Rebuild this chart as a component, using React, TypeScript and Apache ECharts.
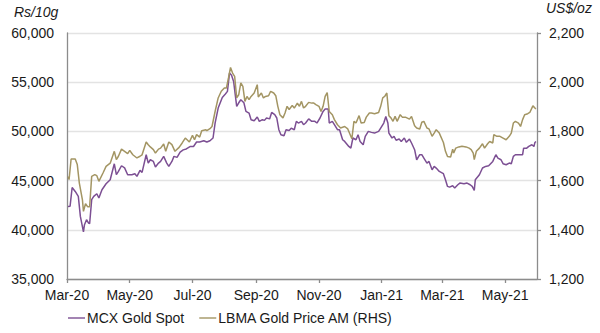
import React, { useEffect, useRef } from "react";
import * as echarts from "echarts";

const mcxDates = [
  "2020-03-02","2020-03-04","2020-03-06","2020-03-09","2020-03-12","2020-03-14","2020-03-17","2020-03-18","2020-03-20","2020-03-22",
  "2020-03-23","2020-03-25","2020-03-27","2020-03-30","2020-04-01","2020-04-04","2020-04-08","2020-04-12","2020-04-16","2020-04-18",
  "2020-04-20","2020-04-23","2020-04-26","2020-04-29","2020-05-03","2020-05-06","2020-05-08","2020-05-11","2020-05-13","2020-05-17",
  "2020-05-19","2020-05-21","2020-05-24","2020-05-26","2020-05-29","2020-05-31","2020-06-03","2020-06-06","2020-06-08","2020-06-11",
  "2020-06-13","2020-06-16","2020-06-19","2020-06-22","2020-06-25","2020-06-29","2020-07-02","2020-07-05","2020-07-08","2020-07-12",
  "2020-07-15","2020-07-18","2020-07-21","2020-07-23","2020-07-26","2020-07-30","2020-08-02","2020-08-04","2020-08-06","2020-08-08",
  "2020-08-10","2020-08-13","2020-08-15","2020-08-17","2020-08-20","2020-08-22","2020-08-25","2020-08-27","2020-08-30","2020-09-02",
  "2020-09-04","2020-09-07","2020-09-09","2020-09-11","2020-09-14","2020-09-16","2020-09-19","2020-09-21","2020-09-23","2020-09-25",
  "2020-09-28","2020-09-30","2020-10-03","2020-10-05","2020-10-08","2020-10-10","2020-10-12","2020-10-15","2020-10-17","2020-10-19",
  "2020-10-22","2020-10-25","2020-10-28","2020-10-30","2020-11-02","2020-11-05","2020-11-07","2020-11-10","2020-11-11","2020-11-14",
  "2020-11-16","2020-11-19","2020-11-21","2020-11-24","2020-11-26","2020-11-30","2020-12-02","2020-12-04","2020-12-07","2020-12-09",
  "2020-12-11","2020-12-14","2020-12-16","2020-12-19","2020-12-22","2020-12-25","2020-12-29","2020-12-31","2021-01-03","2021-01-05",
  "2021-01-07","2021-01-08","2021-01-11","2021-01-13","2021-01-15","2021-01-18","2021-01-20","2021-01-23","2021-01-25","2021-01-28",
  "2021-01-30","2021-02-02","2021-02-04","2021-02-07","2021-02-09","2021-02-11","2021-02-14","2021-02-16","2021-02-19","2021-02-21",
  "2021-02-23","2021-02-26","2021-03-02","2021-03-04","2021-03-06","2021-03-08","2021-03-11","2021-03-13","2021-03-16","2021-03-18",
  "2021-03-22","2021-03-25","2021-03-28","2021-03-30","2021-04-01","2021-04-02","2021-04-06","2021-04-09","2021-04-12","2021-04-15",
  "2021-04-19","2021-04-22","2021-04-24","2021-04-27","2021-04-29","2021-05-02","2021-05-05","2021-05-07","2021-05-09","2021-05-11",
  "2021-05-14","2021-05-18","2021-05-19","2021-05-22","2021-05-24","2021-05-27","2021-05-29","2021-05-30","2021-05-31"
];
const mcxValues = [
  42380,42400,44300,43900,43400,41360,39780,40520,41020,40680,
  40620,43060,43390,43660,43230,44070,44680,45090,46710,45600,
  45940,46510,46290,45600,45600,45700,45430,46040,45830,47630,
  46780,47120,46950,46380,46780,46950,47460,46780,46440,46950,
  47460,47360,47900,48120,48220,48470,48470,48920,48920,49050,
  48920,49050,49330,50850,52370,53450,53800,54070,55930,55700,
  55080,52540,52910,53220,52910,52030,51860,51190,51080,51460,
  51020,51190,51120,51360,51270,51930,51700,51360,50170,49660,
  49560,50170,50100,50330,50170,51020,50850,51020,50680,50850,
  51270,51020,51020,50850,51360,52030,52270,52270,50850,51020,
  50680,50170,50170,49150,48980,48470,48300,49330,49150,49660,
  48980,48640,49490,50000,49900,49830,50000,50340,50850,51520,
  50850,49830,49330,49490,49100,49220,48980,49330,48890,49220,
  48820,48140,47120,47630,47630,47290,46780,46950,46100,46440,
  46270,45930,45700,45090,44410,44340,44480,44250,44580,44750,
  44680,44750,44580,44410,44000,45090,45600,46280,46440,46500,
  46950,47630,47290,47120,46720,46610,46780,46720,47460,47630,
  47630,47630,48300,48300,48470,48640,48470,48880,48980
];

const lbmaDates = [
  "2020-03-02","2020-03-03","2020-03-05","2020-03-09","2020-03-11","2020-03-13","2020-03-16","2020-03-17","2020-03-19","2020-03-21",
  "2020-03-23","2020-03-25","2020-03-28","2020-03-30","2020-04-01","2020-04-05","2020-04-08","2020-04-12","2020-04-16","2020-04-18",
  "2020-04-20","2020-04-23","2020-04-26","2020-04-29","2020-05-01","2020-05-04","2020-05-08","2020-05-11","2020-05-13","2020-05-17",
  "2020-05-19","2020-05-21","2020-05-24","2020-05-26","2020-05-29","2020-05-31","2020-06-03","2020-06-05","2020-06-08","2020-06-11",
  "2020-06-14","2020-06-18","2020-06-21","2020-06-24","2020-06-28","2020-07-01","2020-07-03","2020-07-05","2020-07-08","2020-07-10",
  "2020-07-14","2020-07-15","2020-07-18","2020-07-20","2020-07-23","2020-07-26","2020-07-29","2020-08-01","2020-08-03","2020-08-05",
  "2020-08-07","2020-08-09","2020-08-11","2020-08-13","2020-08-15","2020-08-17","2020-08-19","2020-08-21","2020-08-23","2020-08-25",
  "2020-08-27","2020-08-30","2020-09-02","2020-09-03","2020-09-06","2020-09-08","2020-09-10","2020-09-13","2020-09-15","2020-09-18",
  "2020-09-20","2020-09-22","2020-09-24","2020-09-27","2020-09-29","2020-10-01","2020-10-03","2020-10-06","2020-10-08","2020-10-11",
  "2020-10-13","2020-10-15","2020-10-17","2020-10-19","2020-10-22","2020-10-25","2020-10-27","2020-10-29","2020-11-01","2020-11-03",
  "2020-11-05","2020-11-07","2020-11-09","2020-11-11","2020-11-14","2020-11-16","2020-11-19","2020-11-22","2020-11-26","2020-11-29",
  "2020-12-03","2020-12-05","2020-12-07","2020-12-10","2020-12-12","2020-12-15","2020-12-17","2020-12-20","2020-12-22","2020-12-25",
  "2020-12-29","2020-12-31","2021-01-02","2021-01-04","2021-01-06","2021-01-08","2021-01-10","2021-01-12","2021-01-14","2021-01-16",
  "2021-01-19","2021-01-21","2021-01-24","2021-01-28","2021-01-30","2021-02-02","2021-02-04","2021-02-07","2021-02-09","2021-02-11",
  "2021-02-14","2021-02-16","2021-02-19","2021-02-21","2021-02-23","2021-02-26","2021-03-02","2021-03-04","2021-03-06","2021-03-09",
  "2021-03-11","2021-03-12","2021-03-14","2021-03-17","2021-03-20","2021-03-24","2021-03-27","2021-03-29","2021-03-31","2021-04-01",
  "2021-04-03","2021-04-06","2021-04-09","2021-04-11","2021-04-14","2021-04-16","2021-04-19","2021-04-20","2021-04-23","2021-04-26",
  "2021-04-29","2021-05-02","2021-05-05","2021-05-07","2021-05-09","2021-05-11","2021-05-14","2021-05-16","2021-05-18","2021-05-20",
  "2021-05-23","2021-05-25","2021-05-28","2021-05-30","2021-05-31"
];
const lbmaValues = [
  1617,1604,1688,1688,1665,1590,1522,1475,1506,1494,
  1494,1617,1624,1620,1597,1631,1658,1671,1719,1685,
  1699,1728,1719,1710,1723,1705,1692,1699,1705,1757,
  1746,1737,1726,1712,1728,1732,1749,1719,1757,1746,
  1719,1735,1753,1773,1757,1784,1766,1787,1777,1803,
  1807,1803,1811,1820,1881,1936,1963,1976,1976,2017,
  2060,2037,2024,1936,1949,1997,1983,1922,1942,1929,
  1942,1956,1990,1940,1956,1936,1942,1945,1963,1956,
  1945,1902,1868,1855,1875,1902,1889,1905,1895,1915,
  1902,1922,1895,1902,1918,1915,1915,1909,1902,1881,
  1902,1942,1958,1881,1868,1848,1827,1814,1820,1810,
  1770,1841,1834,1864,1834,1836,1858,1875,1875,1872,
  1877,1902,1936,1943,1956,1864,1855,1841,1861,1841,
  1868,1858,1858,1850,1861,1823,1814,1810,1837,1841,
  1814,1810,1780,1793,1807,1793,1755,1719,1698,1696,
  1728,1712,1732,1737,1740,1737,1732,1726,1712,1685,
  1719,1732,1750,1732,1750,1759,1753,1787,1780,1780,
  1773,1766,1780,1793,1834,1841,1834,1820,1848,1868,
  1872,1877,1904,1895,1892
];

const xTickDates = ["2020-03-01","2020-05-01","2020-07-01","2020-09-01","2020-11-01","2021-01-01","2021-03-01","2021-05-01"];
const xMin = "2020-03-01";
const xMax = "2021-06-01";
const leftTicks = { min: 35000, max: 60000, interval: 5000 };
const rightTicks = { min: 1200, max: 2200, interval: 200 };
const seriesNames = ["MCX Gold Spot", "LBMA Gold Price AM (RHS)"];
const axisTitles = ["Rs/10g", "US$/oz"];

const MONTHS = ["Jan","Feb","Mar","Apr","May","Jun","Jul","Aug","Sep","Oct","Nov","Dec"];
const toTs = (s: string) => {
  const [y, m, d] = s.split("-").map(Number);
  return Date.UTC(y, m - 1, d);
};

export default function App() {
  const ref = useRef<HTMLDivElement>(null);
  useEffect(() => {
    document.body.style.margin = "0";
    if (!ref.current) return;
    const chart = echarts.init(ref.current, null, { renderer: "svg" });
    const font = "'Liberation Sans', Arial, sans-serif";
    const textColor = "#1a1a1a";
    const axisGray = "#8c8c8c";
    const tickTs = xTickDates.map(toTs);
    chart.setOption({
      animation: false,
      textStyle: { fontFamily: font },
      grid: { left: 67, right: 63, top: 33, bottom: 54, containLabel: false },
      legend: {
        left: 63,
        top: 306,
        itemWidth: 17,
        itemHeight: 10,
        itemGap: 15,
        textStyle: { fontSize: 14, color: textColor, fontFamily: font, padding: [0, 0, 0, -3] },
        data: seriesNames.map((n) => ({ name: n, icon: "path://M0,4.3 L17,4.3 L17,5.7 L0,5.7 Z" })),
      },
      graphic: [
        { type: "text", left: 14, top: 5, style: { text: axisTitles[0], font: `italic 14px ${font}`, fill: textColor } },
        { type: "text", left: 546, top: 1, style: { text: axisTitles[1], font: `italic 14px ${font}`, fill: textColor } },
      ],
      xAxis: {
        type: "value",
        min: toTs(xMin),
        max: toTs(xMax),
        axisLine: { show: true, onZero: false, lineStyle: { color: axisGray, width: 1.3 } },
        axisTick: { show: true, length: 4, lineStyle: { color: axisGray, width: 1.3 }, customValues: tickTs },
        splitLine: { show: false },
        axisLabel: {
          customValues: tickTs,
          fontSize: 14,
          color: textColor,
          fontFamily: font,
          margin: 9,
          hideOverlap: false,
          formatter: (v: number) => {
            const d = new Date(v);
            return `${MONTHS[d.getUTCMonth()]}-${String(d.getUTCFullYear()).slice(2)}`;
          },
        },
      },
      yAxis: [
        {
          type: "value",
          min: leftTicks.min,
          max: leftTicks.max,
          interval: leftTicks.interval,
          axisLine: { show: true, lineStyle: { color: axisGray, width: 1.3 } },
          axisTick: { show: false },
          splitLine: { show: true, lineStyle: { color: "#e3e3e3", width: 1.3 } },
          axisLabel: {
            fontSize: 14,
            color: textColor,
            fontFamily: font,
            margin: 13,
            formatter: (v: number) => v.toLocaleString("en-US"),
          },
        },
        {
          type: "value",
          position: "right",
          min: rightTicks.min,
          max: rightTicks.max,
          interval: rightTicks.interval,
          axisLine: { show: true, lineStyle: { color: axisGray, width: 1.3 } },
          axisTick: { show: true, length: 4, lineStyle: { color: axisGray, width: 1.3 } },
          splitLine: { show: false },
          axisLabel: {
            fontSize: 14,
            color: textColor,
            fontFamily: font,
            margin: 12,
            formatter: (v: number) => v.toLocaleString("en-US"),
          },
        },
      ],
      series: [
        {
          name: seriesNames[0],
          type: "line",
          yAxisIndex: 0,
          symbol: "none",
          color: "#7c4f93",
          lineStyle: { width: 1.5, color: "#7c4f93" },
          data: mcxDates.map((d, i) => [toTs(d), mcxValues[i]]),
        },
        {
          name: seriesNames[1],
          type: "line",
          yAxisIndex: 1,
          symbol: "none",
          color: "#a39563",
          lineStyle: { width: 1.5, color: "#a39563" },
          data: lbmaDates.map((d, i) => [toTs(d), lbmaValues[i]]),
        },
      ],
    });
    return () => chart.dispose();
  }, []);
  return <div ref={ref} style={{ width: 600, height: 333 }} />;
}
